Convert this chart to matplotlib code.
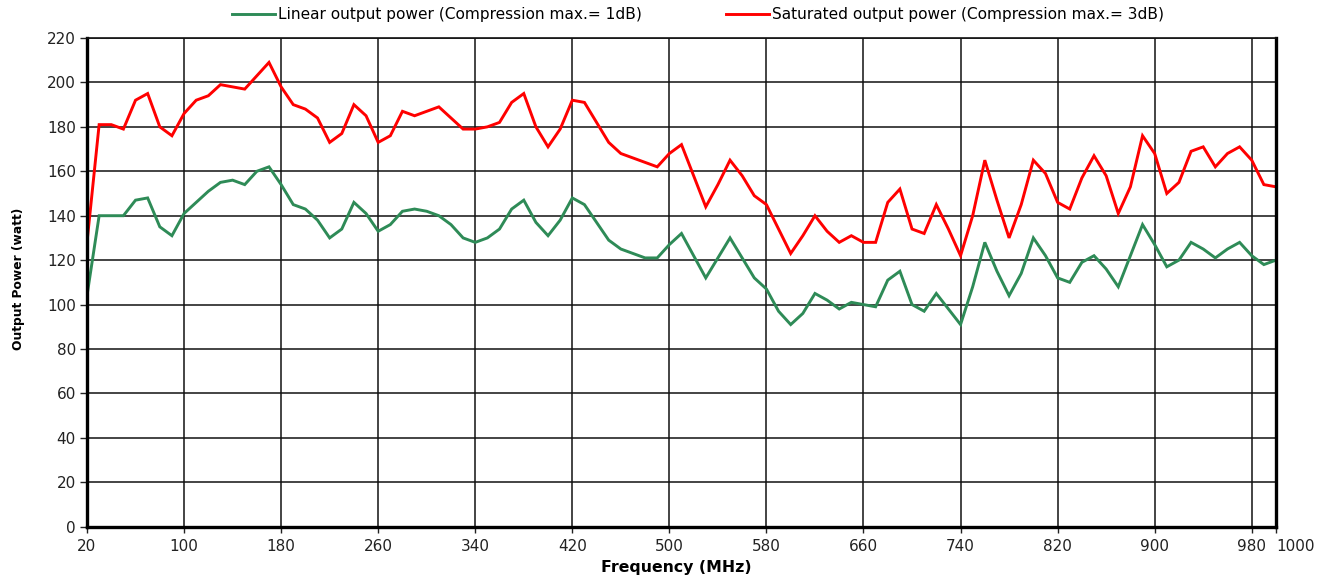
import matplotlib
matplotlib.use("Agg")
import matplotlib.pyplot as plt
from matplotlib.ticker import FixedLocator

freq_mhz = [20, 30, 40, 50, 60, 70, 80, 90, 100, 110,
            120, 130, 140, 150, 160, 170, 180, 190, 200, 210,
            220, 230, 240, 250, 260, 270, 280, 290, 300, 310,
            320, 330, 340, 350, 360, 370, 380, 390, 400, 410,
            420, 430, 440, 450, 460, 470, 480, 490, 500, 510,
            520, 530, 540, 550, 560, 570, 580, 590, 600, 610,
            620, 630, 640, 650, 660, 670, 680, 690, 700, 710,
            720, 730, 740, 750, 760, 770, 780, 790, 800, 810,
            820, 830, 840, 850, 860, 870, 880, 890, 900, 910,
            920, 930, 940, 950, 960, 970, 980, 990, 1000]

linear_power = [104, 140, 140, 140, 147, 148, 135, 131, 141, 146,
                151, 155, 156, 154, 160, 162, 154, 145, 143, 138,
                130, 134, 146, 141, 133, 136, 142, 143, 142, 140,
                136, 130, 128, 130, 134, 143, 147, 137, 131, 138,
                148, 145, 137, 129, 125, 123, 121, 121, 127, 132,
                122, 112, 121, 130, 121, 112, 107, 97, 91, 96,
                105, 102, 98, 101, 100, 99, 111, 115, 100, 97,
                105, 98, 91, 108, 128, 115, 104, 114, 130, 122,
                112, 110, 119, 122, 116, 108, 122, 136, 127, 117,
                120, 128, 125, 121, 125, 128, 122, 118, 120]

saturated_power = [128, 181, 181, 179, 192, 195, 180, 176, 186, 192,
                   194, 199, 198, 197, 203, 209, 198, 190, 188, 184,
                   173, 177, 190, 185, 173, 176, 187, 185, 187, 189,
                   184, 179, 179, 180, 182, 191, 195, 180, 171, 179,
                   192, 191, 182, 173, 168, 166, 164, 162, 168, 172,
                   158, 144, 154, 165, 158, 149, 145, 134, 123, 131,
                   140, 133, 128, 131, 128, 128, 146, 152, 134, 132,
                   145, 134, 122, 140, 165, 147, 130, 145, 165, 159,
                   146, 143, 157, 167, 158, 141, 153, 176, 168, 150,
                   155, 169, 171, 162, 168, 171, 165, 154, 153]

x_ticks = [20, 100, 180, 260, 340, 420, 500, 580, 660, 740, 820, 900, 980, 1000]
x_tick_labels = ["20", "100", "180", "260", "340", "420", "500", "580",
                 "660", "740", "820", "900", "980", "1000"]
y_ticks = [0, 20, 40, 60, 80, 100, 120, 140, 160, 180, 200, 220]

label_linear = "Linear output power (Compression max.= 1dB)"
label_saturated = "Saturated output power (Compression max.= 3dB)"

plt.rcParams['font.family'] = ['DejaVu Sans']

fig = plt.figure(figsize=(13.32, 5.78), dpi=100)
ax = fig.add_axes([87 / 1332, 1 - 526.7 / 578, (1276 - 87) / 1332, (526.7 - 38) / 578])

ax.plot(freq_mhz, linear_power, color="#2E8B57", lw=2.1, label=label_linear,
        solid_joinstyle="miter")
ax.plot(freq_mhz, saturated_power, color="#FF0000", lw=2.1, label=label_saturated,
        solid_joinstyle="miter")

ax.set_xlim(20, 1000)
ax.set_ylim(0, 220)
ax.set_xticks(x_ticks)
ax.set_xticklabels(x_tick_labels)
ax.set_yticks(y_ticks)
ax.tick_params(axis="both", labelsize=11, colors="#222222", width=1.0)
ax.tick_params(axis="x", length=4, pad=5)
ax.tick_params(axis="y", length=5, pad=3)
for lbl in ax.get_xticklabels():
    if lbl.get_text() == "1000":
        lbl.set_horizontalalignment("left")

ax.grid(True, which="major", color="#111111", lw=1.1)
ax.xaxis.set_major_locator(FixedLocator(x_ticks))

for side in ["left", "bottom", "right"]:
    ax.spines[side].set_linewidth(2.4)
    ax.spines[side].set_color("#000000")
ax.spines["top"].set_linewidth(1.2)
ax.spines["top"].set_color("#111111")

ax.set_xlabel("Frequency (MHz)", fontsize=11.3, fontweight="bold")
ax.xaxis.set_label_coords(0.4955, -0.0825)
ax.xaxis.label.set_verticalalignment("center")
ax.set_ylabel("Output Power (watt)", fontsize=8.8, fontweight="bold")
ax.yaxis.set_label_coords(-0.052, 0.507)

fig.legend(loc="center", bbox_to_anchor=(698 / 1332, 1 - 14.5 / 578), ncol=2,
           frameon=False, fontsize=11.1, handlelength=2.8, columnspacing=5.4,
           handletextpad=0.2)

fig.savefig("out.png", dpi=100)
